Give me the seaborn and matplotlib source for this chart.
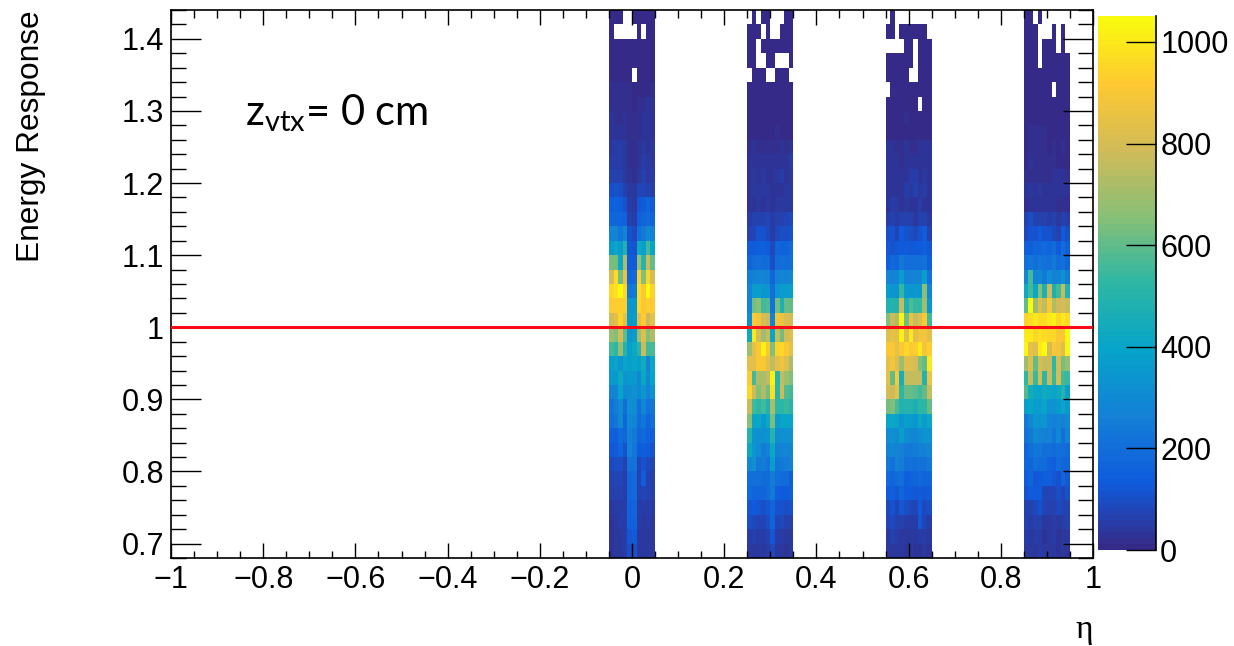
import numpy as np
import pandas as pd
import matplotlib
matplotlib.use('Agg')
import matplotlib.pyplot as plt
import seaborn as sns
from matplotlib.colors import LinearSegmentedColormap

# counts per cell, rows from the top of the plot (1.42-1.44) down to 0.68-0.70
band_m005 = [
    [5, 5, 5, 0, 0, 5, 5, 5, 5, 5],
    [5, 0, 0, 0, 0, 0, 5, 0, 5, 5],
    [8, 8, 8, 8, 8, 8, 8, 8, 8, 8],
    [8, 8, 8, 8, 8, 8, 8, 8, 8, 8],
    [8, 8, 8, 8, 8, 0, 8, 8, 8, 8],
    [12, 12, 12, 20, 12, 10, 10, 10, 10, 12],
    [20, 20, 15, 20, 12, 10, 12, 15, 25, 25],
    [25, 22, 22, 30, 15, 12, 15, 25, 25, 25],
    [30, 28, 28, 30, 15, 12, 22, 35, 30, 30],
    [45, 48, 48, 40, 20, 15, 25, 40, 35, 38],
    [50, 55, 55, 40, 22, 18, 30, 50, 40, 45],
    [60, 70, 60, 40, 25, 22, 40, 60, 45, 55],
    [100, 110, 100, 70, 45, 40, 80, 75, 60, 60],
    [150, 160, 150, 110, 50, 45, 125, 135, 165, 140],
    [170, 175, 175, 160, 60, 55, 150, 165, 180, 170],
    [280, 270, 230, 280, 110, 90, 200, 240, 300, 260],
    [370, 420, 360, 480, 120, 110, 430, 380, 550, 400],
    [640, 620, 420, 720, 130, 130, 680, 500, 780, 600],
    [800, 960, 620, 860, 170, 180, 930, 650, 950, 800],
    [950, 980, 1040, 950, 230, 240, 960, 900, 1040, 940],
    [920, 930, 930, 930, 340, 350, 950, 900, 930, 920],
    [800, 830, 950, 850, 360, 370, 850, 920, 780, 850],
    [680, 650, 800, 600, 350, 370, 700, 820, 650, 730],
    [550, 520, 680, 500, 380, 420, 500, 780, 550, 570],
    [380, 400, 340, 400, 380, 400, 380, 440, 280, 420],
    [360, 360, 430, 340, 360, 360, 300, 420, 300, 400],
    [270, 270, 390, 300, 310, 320, 300, 350, 270, 330],
    [220, 250, 300, 210, 320, 310, 210, 290, 220, 230],
    [210, 230, 300, 170, 300, 270, 190, 230, 170, 210],
    [150, 150, 190, 170, 260, 240, 170, 180, 160, 150],
    [120, 130, 170, 110, 260, 230, 130, 150, 130, 110],
    [85, 100, 100, 60, 220, 220, 80, 110, 85, 80],
    [70, 75, 75, 50, 170, 180, 60, 145, 70, 60],
    [60, 65, 70, 50, 170, 180, 60, 75, 65, 60],
    [45, 50, 50, 50, 160, 170, 50, 55, 55, 50],
    [35, 45, 55, 50, 160, 160, 50, 45, 50, 45],
    [35, 40, 45, 50, 125, 130, 45, 40, 40, 40],
    [35, 40, 40, 50, 100, 110, 45, 40, 40, 40],
]
band_025 = [
    [0, 6, 0, 6, 6, 0, 0, 0, 6, 6],
    [6, 6, 6, 0, 6, 0, 0, 6, 6, 6],
    [6, 6, 0, 6, 6, 6, 6, 6, 6, 6],
    [6, 6, 0, 0, 6, 6, 0, 0, 0, 6],
    [0, 6, 6, 6, 0, 0, 6, 6, 6, 0],
    [7, 7, 7, 7, 7, 7, 7, 7, 7, 7],
    [7, 7, 7, 7, 7, 7, 7, 7, 7, 7],
    [7, 7, 7, 7, 7, 7, 7, 7, 7, 7],
    [10, 10, 10, 10, 10, 10, 20, 10, 10, 10],
    [18, 25, 15, 15, 15, 15, 15, 25, 15, 25],
    [30, 30, 35, 28, 35, 30, 25, 30, 35, 50],
    [28, 45, 35, 40, 35, 25, 45, 50, 30, 40],
    [35, 45, 45, 40, 40, 30, 35, 35, 40, 45],
    [30, 35, 40, 35, 45, 30, 45, 40, 45, 45],
    [55, 70, 60, 60, 75, 50, 70, 70, 75, 90],
    [70, 80, 110, 110, 90, 50, 85, 95, 100, 110],
    [130, 130, 150, 150, 140, 85, 170, 160, 160, 180],
    [170, 190, 200, 190, 190, 100, 190, 200, 190, 210],
    [250, 260, 280, 280, 260, 170, 260, 290, 270, 290],
    [270, 370, 370, 340, 340, 210, 340, 370, 370, 380],
    [260, 630, 660, 560, 580, 220, 630, 470, 610, 600],
    [310, 920, 880, 800, 780, 280, 880, 860, 810, 800],
    [430, 1000, 800, 700, 780, 400, 760, 620, 800, 820],
    [700, 850, 900, 1020, 900, 650, 940, 950, 900, 850],
    [830, 830, 900, 900, 840, 750, 830, 870, 820, 720],
    [920, 550, 720, 720, 750, 1020, 500, 750, 700, 650],
    [950, 780, 650, 730, 620, 980, 500, 780, 580, 550],
    [780, 550, 520, 560, 480, 720, 520, 520, 540, 510],
    [660, 400, 410, 360, 420, 640, 370, 400, 400, 400],
    [500, 330, 320, 320, 330, 500, 310, 320, 320, 320],
    [430, 350, 310, 250, 280, 420, 260, 280, 290, 280],
    [300, 320, 240, 250, 220, 380, 230, 240, 250, 260],
    [200, 210, 200, 190, 190, 250, 200, 190, 190, 150],
    [180, 170, 170, 170, 190, 240, 150, 140, 140, 150],
    [120, 130, 120, 100, 120, 170, 110, 110, 100, 110],
    [100, 90, 80, 75, 100, 170, 80, 90, 70, 70],
    [50, 70, 55, 50, 70, 120, 50, 50, 45, 45],
    [40, 45, 45, 40, 50, 90, 40, 40, 35, 40],
]
band_055 = [
    [0, 6, 0, 0, 0, 0, 0, 0, 0, 0],
    [6, 6, 0, 6, 6, 6, 6, 6, 6, 0],
    [0, 0, 0, 0, 6, 6, 0, 6, 6, 6],
    [6, 6, 6, 6, 6, 6, 0, 6, 6, 6],
    [6, 6, 6, 6, 6, 0, 0, 6, 6, 6],
    [0, 7, 7, 7, 7, 7, 7, 7, 7, 7],
    [7, 7, 7, 7, 7, 7, 7, 0, 7, 7],
    [8, 8, 8, 8, 12, 8, 8, 8, 10, 8],
    [10, 10, 10, 10, 10, 10, 10, 10, 10, 10],
    [25, 25, 15, 15, 25, 15, 15, 28, 28, 25],
    [25, 30, 25, 20, 25, 30, 30, 35, 30, 30],
    [30, 25, 25, 35, 30, 50, 50, 30, 40, 35],
    [30, 25, 30, 30, 50, 40, 60, 40, 50, 30],
    [30, 50, 45, 35, 45, 35, 30, 50, 25, 25],
    [50, 70, 50, 70, 70, 60, 45, 70, 60, 40],
    [100, 110, 80, 130, 110, 100, 90, 110, 140, 70],
    [120, 110, 120, 140, 140, 120, 140, 130, 150, 120],
    [150, 180, 170, 230, 200, 200, 200, 200, 220, 150],
    [290, 260, 290, 370, 260, 260, 280, 270, 380, 220],
    [370, 350, 330, 530, 360, 350, 360, 350, 660, 270],
    [480, 500, 480, 770, 470, 580, 530, 530, 700, 350],
    [650, 780, 730, 1030, 620, 860, 760, 820, 920, 560],
    [820, 850, 840, 1020, 820, 1000, 830, 880, 880, 830],
    [900, 900, 850, 900, 950, 900, 930, 1000, 880, 930],
    [830, 880, 820, 700, 820, 820, 800, 650, 600, 1000],
    [830, 600, 900, 450, 750, 760, 760, 760, 480, 870],
    [800, 780, 850, 520, 610, 610, 590, 560, 600, 760],
    [620, 650, 570, 480, 500, 500, 470, 520, 520, 610],
    [400, 410, 400, 330, 380, 370, 340, 410, 370, 420],
    [310, 320, 310, 380, 310, 300, 290, 310, 330, 330],
    [270, 290, 280, 260, 240, 240, 250, 260, 260, 290],
    [240, 220, 260, 250, 210, 220, 210, 220, 220, 240],
    [180, 170, 190, 200, 150, 160, 170, 180, 170, 170],
    [130, 150, 120, 170, 140, 130, 120, 130, 120, 130],
    [90, 110, 80, 120, 100, 90, 80, 130, 90, 100],
    [80, 90, 60, 70, 55, 50, 50, 120, 75, 55],
    [45, 60, 50, 45, 40, 40, 45, 50, 50, 45],
    [40, 45, 40, 40, 30, 40, 35, 30, 40, 35],
]
band_085 = [
    [6, 6, 0, 6, 0, 0, 0, 0, 0, 0],
    [6, 6, 6, 0, 0, 0, 6, 0, 6, 0],
    [6, 6, 6, 0, 6, 6, 6, 0, 6, 0],
    [6, 6, 6, 0, 6, 6, 6, 6, 6, 6],
    [6, 6, 6, 6, 6, 6, 6, 6, 6, 6],
    [6, 6, 6, 6, 6, 6, 0, 6, 6, 6],
    [7, 7, 7, 7, 7, 7, 7, 7, 7, 7],
    [7, 7, 7, 7, 7, 7, 7, 7, 7, 7],
    [7, 15, 15, 15, 15, 7, 7, 7, 7, 7],
    [8, 15, 15, 12, 15, 8, 12, 8, 12, 8],
    [10, 25, 12, 12, 15, 15, 15, 10, 10, 10],
    [12, 20, 12, 15, 15, 15, 35, 30, 30, 12],
    [35, 40, 35, 40, 30, 30, 25, 25, 35, 30],
    [15, 35, 30, 35, 35, 35, 30, 20, 20, 20],
    [60, 100, 60, 60, 60, 50, 60, 45, 70, 50],
    [90, 110, 110, 130, 110, 110, 90, 60, 130, 100],
    [150, 150, 170, 170, 180, 170, 190, 130, 190, 150],
    [200, 230, 210, 230, 220, 210, 240, 190, 220, 170],
    [290, 560, 270, 300, 240, 310, 260, 270, 330, 250],
    [430, 560, 420, 650, 470, 780, 470, 550, 760, 480],
    [600, 1040, 700, 820, 750, 900, 720, 790, 800, 760],
    [940, 960, 1000, 960, 960, 1000, 1020, 950, 1000, 960],
    [1000, 1000, 950, 980, 960, 950, 950, 900, 900, 1040],
    [1030, 850, 820, 1000, 1040, 800, 900, 880, 820, 1030],
    [700, 820, 600, 800, 770, 780, 520, 800, 640, 680],
    [520, 780, 540, 800, 520, 780, 540, 800, 560, 540],
    [580, 450, 420, 400, 440, 420, 400, 430, 500, 380],
    [380, 400, 370, 370, 400, 330, 330, 360, 400, 360],
    [240, 290, 340, 330, 340, 270, 260, 290, 260, 300],
    [220, 240, 300, 270, 260, 260, 230, 300, 200, 260],
    [170, 200, 230, 230, 210, 200, 190, 210, 210, 180],
    [170, 170, 210, 190, 190, 160, 150, 190, 170, 170],
    [130, 170, 120, 130, 150, 150, 120, 110, 170, 120],
    [110, 130, 140, 130, 80, 80, 80, 100, 80, 110],
    [70, 70, 90, 110, 80, 70, 70, 90, 80, 70],
    [60, 50, 60, 60, 40, 45, 50, 40, 55, 60],
    [50, 45, 55, 50, 35, 40, 50, 35, 45, 40],
    [40, 40, 40, 50, 40, 40, 40, 30, 40, 35],
]
band_starts = [-0.05, 0.25, 0.55, 0.85]
bands = [band_m005, band_025, band_055, band_085]

x_ticks = [-1, -0.8, -0.6, -0.4, -0.2, 0, 0.2, 0.4, 0.6, 0.8, 1]
x_labels = ['\u22121', '\u22120.8', '\u22120.6', '\u22120.4', '\u22120.2', '0', '0.2', '0.4', '0.6', '0.8', '1']
y_ticks = [0.7, 0.8, 0.9, 1, 1.1, 1.2, 1.3, 1.4]
y_labels = ['0.7', '0.8', '0.9', '1', '1.1', '1.2', '1.3', '1.4']
cbar_ticks = [0, 200, 400, 600, 800, 1000]

# ROOT kBird palette
bird = [(0.2082, 0.1664, 0.5293), (0.0592, 0.3599, 0.8684), (0.0780, 0.5041, 0.8385),
        (0.0232, 0.6419, 0.7914), (0.1802, 0.7178, 0.6425), (0.5301, 0.7492, 0.4662),
        (0.8186, 0.7328, 0.3499), (0.9956, 0.7862, 0.1968), (0.9764, 0.9832, 0.0539)]
cmap = LinearSegmentedColormap.from_list('bird', bird, N=90)

x_min, y_max = -1.0, 1.44
x_step, y_step = 0.01, 0.02
n_x, n_y = 200, 38

grid = np.zeros((n_y, n_x))
for start, band in zip(band_starts, bands):
    first = int(round((start - x_min) / x_step))
    grid[:, first:first + 10] = np.array(band)
df = pd.DataFrame(grid)


def x_pos(v):
    return (np.asarray(v) - x_min) / x_step


def y_pos(v):
    return (y_max - np.asarray(v)) / y_step


sns.set_style('ticks')
plt.rcParams['font.family'] = ['Liberation Sans', 'DejaVu Sans']
plt.rcParams['text.color'] = 'black'
plt.rcParams['axes.labelcolor'] = 'black'
plt.rcParams['xtick.labelcolor'] = 'black'
plt.rcParams['ytick.labelcolor'] = 'black'
plt.rcParams['mathtext.fontset'] = 'custom'
plt.rcParams['mathtext.rm'] = 'Lato'

W, H = 1234, 646
fig = plt.figure(figsize=(W / 100, H / 100), dpi=100)
ax = fig.add_axes([171 / W, 1 - 558 / H, 922 / W, 548 / H])
cax = fig.add_axes([1098 / W, 1 - 550 / H, 58 / W, 534 / H])

sns.heatmap(df, ax=ax, cbar_ax=cax, mask=df == 0, cmap=cmap, vmin=0, vmax=1051,
            xticklabels=False, yticklabels=False, cbar_kws={'ticks': cbar_ticks})
ax.set_xlabel('')
ax.set_ylabel('')

for side in ax.spines:
    ax.spines[side].set_visible(True)
    ax.spines[side].set_linewidth(1.2)
    ax.spines[side].set_color('black')

ax.set_axisbelow(False)
ax.set_xticks(x_pos(x_ticks))
ax.set_xticklabels(x_labels)
ax.set_xticks(x_pos(np.arange(-1, 1.001, 0.05)), minor=True)
ax.set_yticks(y_pos(y_ticks))
ax.set_yticklabels(y_labels)
ax.set_yticks(y_pos(np.arange(0.68, 1.441, 0.02)), minor=True)
ax.tick_params(axis='x', which='major', direction='in', top=True, bottom=True,
               length=10.8, width=1.0, labelsize=22, pad=5, color='black')
ax.tick_params(axis='x', which='minor', direction='in', top=True, bottom=True,
               length=5.4, width=1.0, color='black')
ax.tick_params(axis='y', which='major', direction='in', left=True, right=True,
               length=21.6, width=1.0, labelsize=22, pad=5, color='black')
ax.tick_params(axis='y', which='minor', direction='in', left=True, right=True,
               length=10.8, width=1.0, color='black')
plt.setp(ax.get_xticklabels(), rotation=0)
plt.setp(ax.get_yticklabels(), rotation=0)

ax.axhline(y_pos(1.0), color='#fa0a14', lw=2.2, zorder=3)

cbar = ax.collections[0].colorbar
cbar.outline.set_visible(False)
cax.set_axisbelow(False)
cax.spines['right'].set_visible(True)
cax.spines['right'].set_linewidth(1.2)
cax.spines['right'].set_color('black')
cax.tick_params(which='major', direction='in', right=True, length=21.6, width=1.0,
                labelsize=22, pad=3, color='black')

ax.set_ylabel('Energy Response', fontsize=22.8, loc='top')
ax.yaxis.set_label_coords((46 - 171) / 922, 1.0)

fig.text(245 / W, 1 - 125 / H, r'$\mathregular{z_{vtx}}$= 0 cm', fontsize=30,
         family=['Lato', 'DejaVu Sans'], color='black')
fig.text(1084 / W, 1 - 638 / H, '\u03b7', fontsize=24, ha='center',
         family=['Liberation Serif', 'DejaVu Serif'], color='black')

fig.savefig('out.png', dpi=100)
